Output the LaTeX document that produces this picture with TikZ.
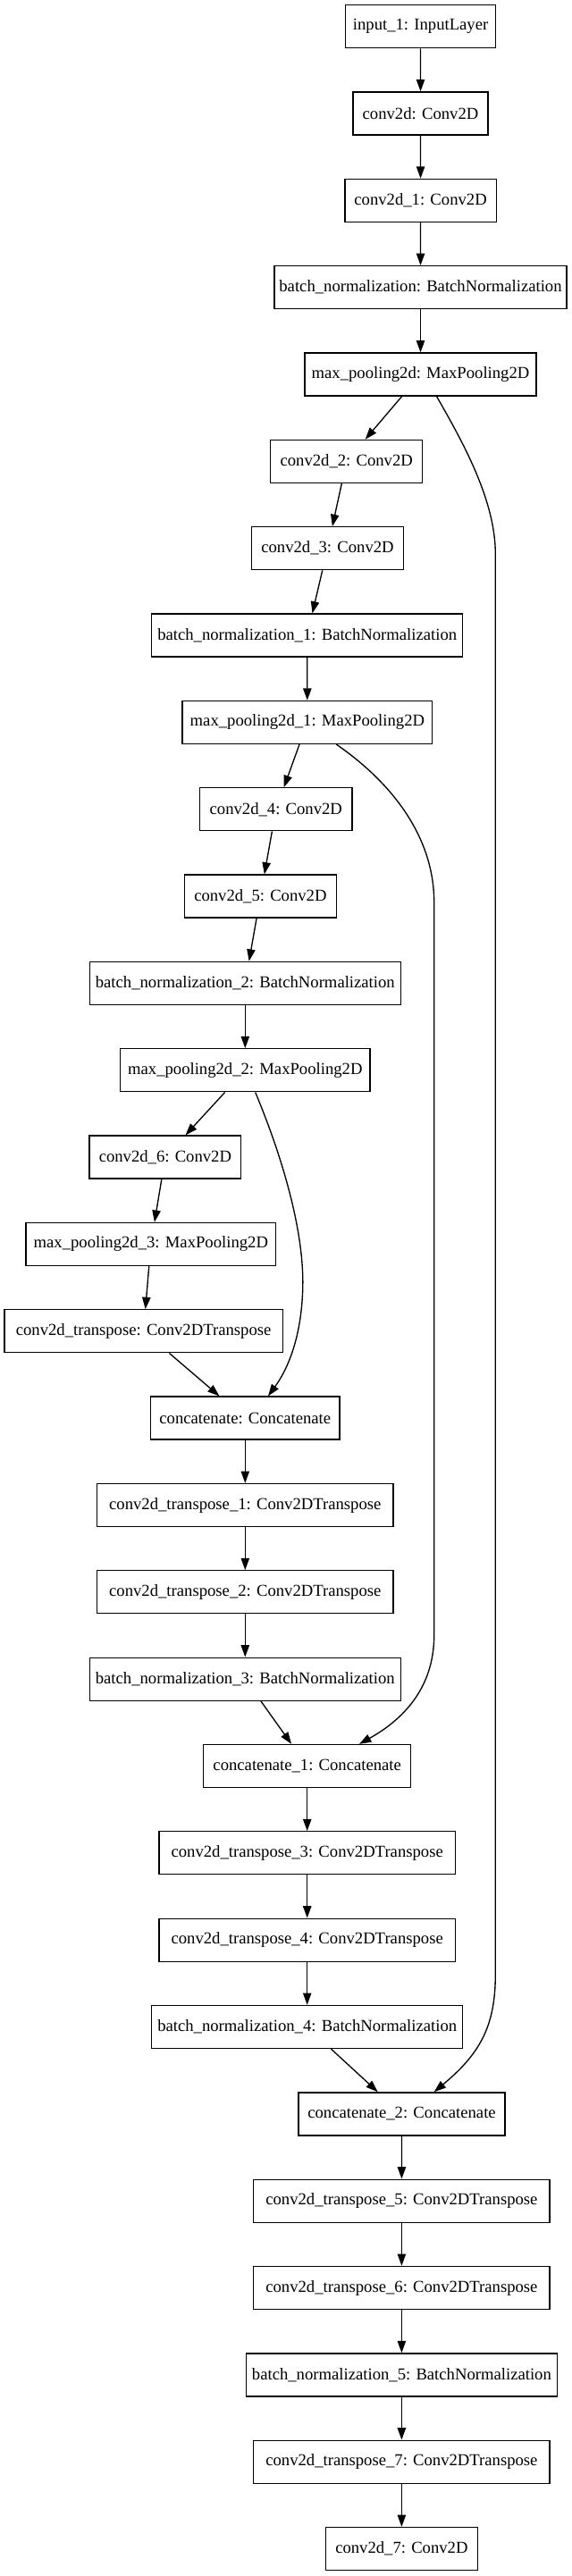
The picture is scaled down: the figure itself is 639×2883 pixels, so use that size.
\documentclass[tikz,border=0pt]{standalone}
\usepackage{fontspec}
\setmainfont{Liberation Serif}
\usetikzlibrary{arrows.meta,calc}
\tikzset{
  layer/.style={draw=black, line width=1pt, rectangle, inner sep=0pt,
    minimum height=36pt, font=\fontsize{14pt}{16pt}\selectfont},
  edge/.style={draw=black, line width=1pt, -{Triangle[length=10pt,width=7pt]}},
}
\newcommand{\lw}[1]{#1*0.75pt}
\begin{document}
\begin{tikzpicture}[x=0.75pt,y=-0.75pt]
\useasboundingbox (0,0) rectangle (639,2883);
\node[layer,minimum width=\lw{168}]   (in)   at (470.6,29.7)  {input\_1: InputLayer};
\node[layer,minimum width=\lw{151}]   (c0)   at (470.5,127.0) {conv2d: Conv2D};
\node[layer,minimum width=\lw{169.5}] (c1)   at (470.6,224.4) {conv2d\_1: Conv2D};
\node[layer,minimum width=\lw{327}]   (bn0)  at (470.5,321.7) {batch\_normalization: BatchNormalization};
\node[layer,minimum width=\lw{259}]   (mp0)  at (470.5,419.1) {max\_pooling2d: MaxPooling2D};
\node[layer,minimum width=\lw{170.2}] (c2)   at (387.7,516.4) {conv2d\_2: Conv2D};
\node[layer,minimum width=\lw{169.8}] (c3)   at (366.5,613.7) {conv2d\_3: Conv2D};
\node[layer,minimum width=\lw{347.8}] (bn1)  at (343.7,711.1) {batch\_normalization\_1: BatchNormalization};
\node[layer,minimum width=\lw{279.7}] (mp1)  at (343.9,808.4) {max\_pooling2d\_1: MaxPooling2D};
\node[layer,minimum width=\lw{170.2}] (c4)   at (308.8,905.8) {conv2d\_4: Conv2D};
\node[layer,minimum width=\lw{169.8}] (c5)   at (291.4,1003.1) {conv2d\_5: Conv2D};
\node[layer,minimum width=\lw{347.8}] (bn2)  at (274.3,1100.4) {batch\_normalization\_2: BatchNormalization};
\node[layer,minimum width=\lw{279.2}] (mp2)  at (274.3,1197.8) {max\_pooling2d\_2: MaxPooling2D};
\node[layer,minimum width=\lw{169.8}] (c6)   at (184.9,1295.1) {conv2d\_6: Conv2D};
\node[layer,minimum width=\lw{279.6}] (mp3)  at (168.8,1392.5) {max\_pooling2d\_3: MaxPooling2D};
\node[layer,minimum width=\lw{311.4}] (ct0)  at (160.6,1489.8) {conv2d\_transpose: Conv2DTranspose};
\node[layer,minimum width=\lw{211.4}] (cat0) at (274.3,1587.1) {concatenate: Concatenate};
\node[layer,minimum width=\lw{331.4}] (ct1)  at (274.3,1684.5) {conv2d\_transpose\_1: Conv2DTranspose};
\node[layer,minimum width=\lw{331.4}] (ct2)  at (274.3,1781.8) {conv2d\_transpose\_2: Conv2DTranspose};
\node[layer,minimum width=\lw{347.8}] (bn3)  at (274.3,1879.2) {batch\_normalization\_3: BatchNormalization};
\node[layer,minimum width=\lw{231.8}] (cat1) at (343.7,1976.5) {concatenate\_1: Concatenate};
\node[layer,minimum width=\lw{331.4}] (ct3)  at (343.7,2073.8) {conv2d\_transpose\_3: Conv2DTranspose};
\node[layer,minimum width=\lw{331.4}] (ct4)  at (343.7,2171.2) {conv2d\_transpose\_4: Conv2DTranspose};
\node[layer,minimum width=\lw{347.8}] (bn4)  at (343.7,2268.5) {batch\_normalization\_4: BatchNormalization};
\node[layer,minimum width=\lw{231.1}] (cat2) at (449.5,2365.9) {concatenate\_2: Concatenate};
\node[layer,minimum width=\lw{331.3}] (ct5)  at (449.4,2463.2) {conv2d\_transpose\_5: Conv2DTranspose};
\node[layer,minimum width=\lw{331.3}] (ct6)  at (449.4,2560.5) {conv2d\_transpose\_6: Conv2DTranspose};
\node[layer,minimum width=\lw{347.8}] (bn5)  at (449.4,2657.9) {batch\_normalization\_5: BatchNormalization};
\node[layer,minimum width=\lw{331.3}] (ct7)  at (449.4,2755.2) {conv2d\_transpose\_7: Conv2DTranspose};
\node[layer,minimum width=\lw{169.8}] (c7)   at (449.4,2852.6) {conv2d\_7: Conv2D};

\foreach \a/\b in {in/c0,c0/c1,c1/bn0,bn0/mp0,mp0/c2,c2/c3,c3/bn1,bn1/mp1,mp1/c4,c4/c5,c5/bn2,bn2/mp2,mp2/c6,c6/mp3,mp3/ct0,ct0/cat0,cat0/ct1,ct1/ct2,ct2/bn3,bn3/cat1,cat1/ct3,ct3/ct4,ct4/bn4,bn4/cat2,cat2/ct5,ct5/ct6,ct6/bn5,bn5/ct7,ct7/c7}
  \draw[edge] (\a) -- (\b);

\draw[edge] ($(mp0.south)+(18.1,0)$) .. controls (518,495) and (554.3,560) .. (554.3,620)
  -- (554.3,2210) .. controls (554.3,2270) and (535,2300) .. ($(cat2.north)+(36.2,0)$);
\draw[edge] ($(mp1.south)+(32.4,0)$) .. controls (430,870) and (485.7,930) .. (485.7,1010)
  -- (485.7,1830) .. controls (485.7,1890) and (450,1925) .. ($(cat1.north)+(58.3,0)$);
\draw[edge] ($(mp2.south)+(11.4,0)$) .. controls (318,1300) and (340,1380) .. (338.8,1440)
  .. controls (337.5,1500) and (320,1535) .. ($(cat0.north)+(25.7,0)$);
\end{tikzpicture}
\end{document}
